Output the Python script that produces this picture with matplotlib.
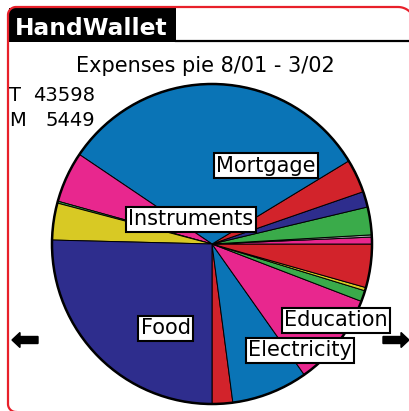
import numpy as np
import matplotlib.pyplot as plt
from matplotlib.patches import Circle, FancyArrow, Rectangle

# Expense totals per category, 8/01 - 3/02 (unlabelled slices have no caption)
categories = ["", "Electricity", "Education", "", "", "", "", "", "",
              "", "", "Mortgage", "Instruments", "", "", "Food"]
amounts = [908, 3355, 4093, 484, 145, 1913, 303, 97, 1223,
           690, 1477, 13891, 2240, 85, 1623, 11071]
total = 43598
monthly = 5449

BLUE, RED, NAVY = "#0a74b6", "#d2232b", "#2e2d8d"
GREEN, PINK, YELLOW, GRAY = "#3aab4a", "#e8278e", "#d8c924", "#a5a5a5"
colors = [RED, BLUE, PINK, GREEN, YELLOW, RED, PINK, GRAY, GREEN,
          NAVY, RED, BLUE, PINK, GREEN, YELLOW, NAVY]

# caption box centres (pixel coords)
label_pos = {
    "Mortgage": (266, 166),
    "Instruments": (191, 219),
    "Food": (166, 328),
    "Education": (336, 320),
    "Electricity": (300, 350),
}

fig = plt.figure(figsize=(4.10, 4.11), dpi=100)
ax = fig.add_axes([0, 0, 1, 1])

center = (212, 244)
radius = 160

# y axis runs downward, so clockwise here is counter-clockwise on screen
ax.pie(amounts, colors=colors, startangle=90, counterclock=False,
       center=center, radius=radius,
       wedgeprops=dict(edgecolor="black", linewidth=0.7))
ax.add_patch(Circle(center, radius, fill=False, edgecolor="black", lw=1.8))

ax.set_xlim(0, 410)
ax.set_ylim(411, 0)
ax.set_aspect("auto")
ax.axis("off")


def arc(cx, cy, r, t0, t1):
    t = np.radians(np.linspace(t0, t1, 20))
    return cx + r * np.cos(t), cy + r * np.sin(t)


# device frame: rounded corners, right/bottom sides run off the canvas
pieces = [arc(398, 24, 17, 0, -90), arc(16, 15, 8, 270, 180),
          arc(16, 404, 8, 180, 90), ([420], [412])]
fx = np.concatenate([p[0] for p in pieces])
fy = np.concatenate([p[1] for p in pieces])
ax.plot(fx, fy, color="#e8202a", lw=1.6)

# title bar
ax.add_patch(Rectangle((9, 8), 167, 34, facecolor="black", edgecolor="none"))
ax.plot([176, 410], [41, 41], color="black", lw=1.6)
ax.text(15, 35, "HandWallet", color="white", fontsize=16.8, fontweight="bold",
        ha="left", va="baseline")

ax.text(205, 72, "Expenses pie 8/01 - 3/02", fontsize=15, ha="center", va="baseline")
ax.text(9, 101, "T", fontsize=14, ha="left", va="baseline")
ax.text(95, 101, str(total), fontsize=14, ha="right", va="baseline")
ax.text(9, 126, "M", fontsize=14, ha="left", va="baseline")
ax.text(95, 126, str(monthly), fontsize=14, ha="right", va="baseline")

for name in categories:
    if name:
        x, y = label_pos[name]
        ax.text(x, y, name, fontsize=15, ha="center", va="center",
                bbox=dict(boxstyle="square,pad=0.12", facecolor="white",
                          edgecolor="black", lw=1.5))

# scroll arrows
ax.add_patch(FancyArrow(38, 340, -18, 0, width=7, head_width=15, head_length=8,
                        length_includes_head=False, color="black"))
ax.add_patch(FancyArrow(383, 340, 18, 0, width=7, head_width=15, head_length=8,
                        length_includes_head=False, color="black"))

plt.savefig("out.png", dpi=100)
